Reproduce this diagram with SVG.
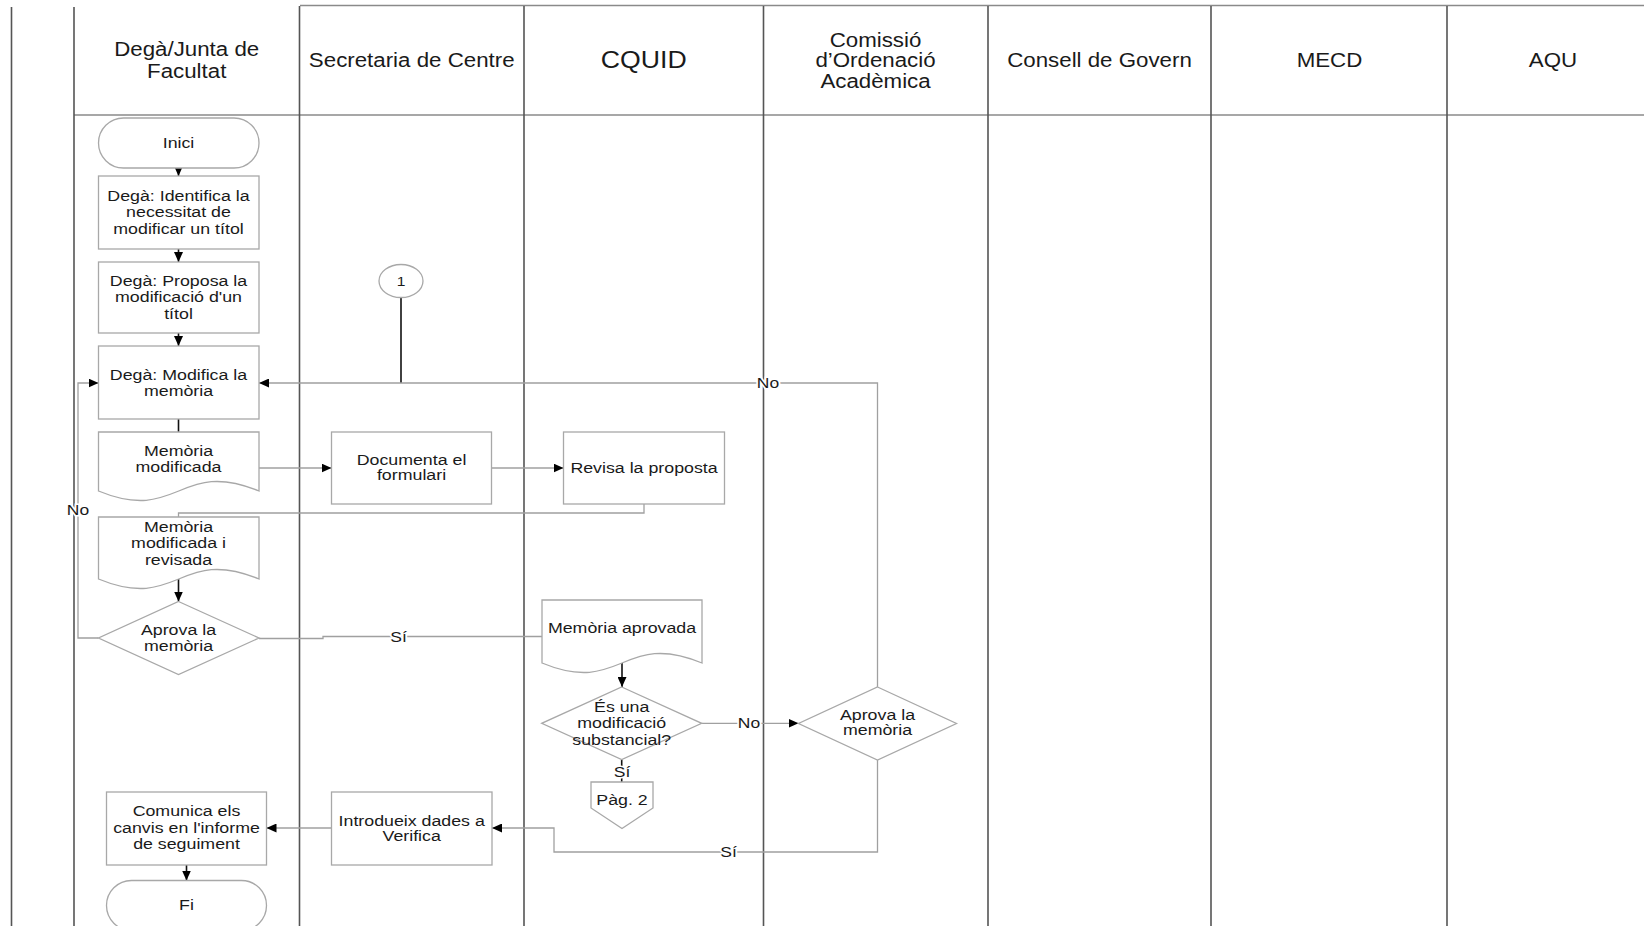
<svg xmlns="http://www.w3.org/2000/svg" width="1644" height="926" viewBox="0 0 1644 926">
<defs>
<style>
.lane{stroke:#555;stroke-width:1.6;fill:none}
.hl{stroke:#8a8a8a;stroke-width:1.6;fill:none}
.box{fill:#fff;stroke:#a8a8a8;stroke-width:1.3}
.c{fill:none;stroke:#a0a0a0;stroke-width:1.3}
.k{fill:none;stroke:#111;stroke-width:1.6}
.h{font-family:"Liberation Sans",Arial,sans-serif;font-size:20px;fill:#1a1a1a;text-anchor:middle}
.t{font-family:"Liberation Sans",Arial,sans-serif;font-size:14px;fill:#1a1a1a;text-anchor:middle}
.lbl{font-family:"Liberation Sans",Arial,sans-serif;font-size:14px;fill:#1a1a1a;text-anchor:middle;stroke:#fff;stroke-width:3;paint-order:stroke}
</style>
<marker id="ar" markerUnits="userSpaceOnUse" markerWidth="10" markerHeight="9" refX="10" refY="4.5" orient="auto">
<path d="M0,0 L10,4.5 L0,9 Z" fill="#000"/>
</marker>
</defs>
<rect width="1644" height="926" fill="#fff"/>

<g id="lanes">
<path class="hl" d="M300,5.5 H1644"/>
<path class="hl" d="M74,115 H1644"/>
<path class="lane" d="M11.5,7 V926 M74,7 V926 M299.5,6 V926 M524,6 V926 M763.5,6 V926 M988,6 V926 M1211,6 V926 M1447,6 V926"/>
<text class="h" transform="translate(186.7,56) scale(1.115,1)"><tspan x="0">Degà/Junta de</tspan><tspan x="0" dy="22">Facultat</tspan></text>
<text class="h" transform="translate(411.7,67) scale(1.115,1)">Secretaria de Centre</text>
<text class="h" style="font-size:23px" transform="translate(643.8,68) scale(1.16,1)">CQUID</text>
<text class="h" transform="translate(875.5,46.5) scale(1.115,1)"><tspan x="0">Comissió</tspan><tspan x="0" dy="20.7">d’Ordenació</tspan><tspan x="0" dy="20.7">Acadèmica</tspan></text>
<text class="h" transform="translate(1099.5,67) scale(1.115,1)">Consell de Govern</text>
<text class="h" transform="translate(1329.5,67) scale(1.115,1)">MECD</text>
<text class="h" transform="translate(1553,67) scale(1.115,1)">AQU</text>
</g>

<g id="connectors">
<path class="k" d="M178.5,168 V176" marker-end="url(#ar)"/>
<path class="k" d="M178.5,249 V262" marker-end="url(#ar)"/>
<path class="k" d="M178.5,333 V346" marker-end="url(#ar)"/>
<path class="k" d="M178.5,419 V432"/>
<path class="k" d="M401,298 V383"/>
<path class="c" d="M877.5,687 V383 H259" marker-end="url(#ar)"/>
<path class="c" d="M98.5,638 H78 V383 H98.5" marker-end="url(#ar)"/>
<path class="c" d="M259,468 H331.5" marker-end="url(#ar)"/>
<path class="c" d="M491.5,468 H563.5" marker-end="url(#ar)"/>
<path class="c" d="M644,504 V513 H178.5 V517"/>
<path class="k" d="M178.5,579 V601.5" marker-end="url(#ar)"/>
<path class="c" d="M259,638.5 H323 V636.5 H542"/>
<path class="k" d="M622,663 V687" marker-end="url(#ar)"/>
<path class="c" d="M701.7,723.3 H798.5" marker-end="url(#ar)"/>
<path class="k" d="M621.7,759.5 V782"/>
<path class="c" d="M877.5,760 V852 H554 V828 H492" marker-end="url(#ar)"/>
<path class="c" d="M331.5,828 H266.5" marker-end="url(#ar)"/>
<path class="k" d="M186.5,865 V880.5" marker-end="url(#ar)"/>
<text class="lbl" transform="translate(78,515) scale(1.25,1)">No</text>
<text class="lbl" transform="translate(768,388) scale(1.25,1)">No</text>
<text class="lbl" transform="translate(749,728) scale(1.25,1)">No</text>
<text class="lbl" transform="translate(398.5,642) scale(1.25,1)">Sí</text>
<text class="lbl" transform="translate(622,776.5) scale(1.25,1)">Sí</text>
<text class="lbl" transform="translate(728.5,857) scale(1.25,1)">Sí</text>
</g>

<g id="inici">
<rect class="box" x="98.5" y="118" width="160.5" height="50" rx="25"/>
<text class="t" transform="translate(178.5,148) scale(1.27,1)">Inici</text>
</g>

<g id="identifica">
<rect class="box" x="98.5" y="176" width="160.5" height="73"/>
<text class="t" transform="translate(178.5,201) scale(1.27,1)"><tspan x="0">Degà: Identifica la</tspan><tspan x="0" dy="16.5">necessitat de</tspan><tspan x="0" dy="16.5">modificar un títol</tspan></text>
</g>

<g id="proposa">
<rect class="box" x="98.5" y="262" width="160.5" height="71"/>
<text class="t" transform="translate(178.5,286) scale(1.27,1)"><tspan x="0">Degà: Proposa la</tspan><tspan x="0" dy="16.3">modificació d'un</tspan><tspan x="0" dy="16.3">títol</tspan></text>
</g>

<g id="modifica">
<rect class="box" x="98.5" y="346" width="160.5" height="73"/>
<text class="t" transform="translate(178.5,379.5) scale(1.27,1)"><tspan x="0">Degà: Modifica la</tspan><tspan x="0" dy="16.7">memòria</tspan></text>
</g>

<g id="connector1">
<ellipse cx="401" cy="281" rx="22" ry="16.5" fill="#fff" stroke="#a8a8a8" stroke-width="1.3"/>
<text class="t" style="font-size:13px" transform="translate(401,285.5) scale(1.2,1)">1</text>
</g>

<g id="memoria-modificada">
<path class="box" d="M98.5,432 H259 V491 C178.75,458 178.75,524 98.5,491 Z"/>
<text class="t" transform="translate(178.5,456) scale(1.27,1)"><tspan x="0">Memòria</tspan><tspan x="0" dy="15.7">modificada</tspan></text>
</g>

<g id="documenta">
<rect class="box" x="331.5" y="432" width="160" height="72"/>
<text class="t" transform="translate(411.5,464.5) scale(1.27,1)"><tspan x="0">Documenta el</tspan><tspan x="0" dy="15.7">formulari</tspan></text>
</g>

<g id="revisa">
<rect class="box" x="563.5" y="432" width="161" height="72"/>
<text class="t" transform="translate(644,473) scale(1.27,1)">Revisa la proposta</text>
</g>

<g id="memoria-revisada">
<path class="box" d="M98.5,517 H259 V579 C178.75,546 178.75,612 98.5,579 Z"/>
<text class="t" transform="translate(178.5,532) scale(1.27,1)"><tspan x="0">Memòria</tspan><tspan x="0" dy="16.3">modificada i</tspan><tspan x="0" dy="16.3">revisada</tspan></text>
</g>

<g id="aprova-dega">
<polygon class="box" points="178.5,601.5 259,638 178.5,674.5 98.5,638"/>
<text class="t" transform="translate(178.5,634.5) scale(1.27,1)"><tspan x="0">Aprova la</tspan><tspan x="0" dy="16.5">memòria</tspan></text>
</g>

<g id="memoria-aprovada">
<path class="box" d="M542,600 H702 V663 C622,630 622,696 542,663 Z"/>
<text class="t" transform="translate(622,633) scale(1.27,1)">Memòria aprovada</text>
</g>

<g id="substancial">
<polygon class="box" points="621.7,687 701.7,723.3 621.7,759.5 541.7,723.3"/>
<text class="t" transform="translate(621.7,712) scale(1.27,1)"><tspan x="0">És una</tspan><tspan x="0" dy="16.3">modificació</tspan><tspan x="0" dy="16.3">substancial?</tspan></text>
</g>

<g id="aprova-coa">
<polygon class="box" points="877.5,687 956.5,723.5 877.5,760 798.5,723.5"/>
<text class="t" transform="translate(877.5,719.5) scale(1.27,1)"><tspan x="0">Aprova la</tspan><tspan x="0" dy="15.5">memòria</tspan></text>
</g>

<g id="pag2">
<path class="box" d="M591,782 H653 V808 L622,828.5 L591,808 Z"/>
<text class="t" transform="translate(622,804.5) scale(1.27,1)">Pàg. 2</text>
</g>

<g id="introdueix">
<rect class="box" x="331.5" y="792" width="160.5" height="73"/>
<text class="t" transform="translate(411.7,825.5) scale(1.27,1)"><tspan x="0">Introdueix dades a</tspan><tspan x="0" dy="15.5">Verifica</tspan></text>
</g>

<g id="comunica">
<rect class="box" x="106.5" y="792" width="160" height="73"/>
<text class="t" transform="translate(186.5,816) scale(1.27,1)"><tspan x="0">Comunica els</tspan><tspan x="0" dy="16.7">canvis en l'informe</tspan><tspan x="0" dy="16.7">de seguiment</tspan></text>
</g>

<g id="fi">
<rect class="box" x="106.5" y="880.5" width="160" height="50" rx="25"/>
<text class="t" transform="translate(186.5,910) scale(1.27,1)">Fi</text>
</g>
</svg>
